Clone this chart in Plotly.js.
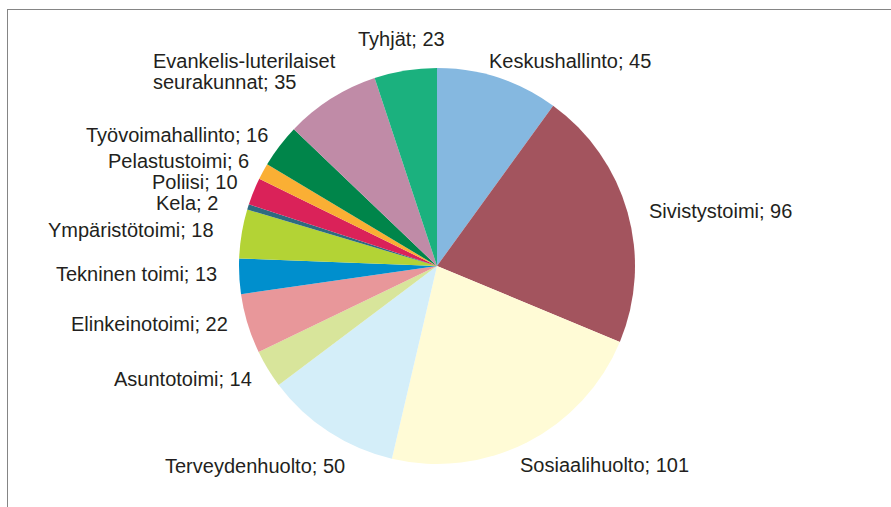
<!DOCTYPE html>
<html>
<head>
<meta charset="utf-8">
<script src="https://cdn.plot.ly/plotly-3.0.1.min.js"></script>
<style>
  html, body { margin: 0; padding: 0; background: #fff; }
  #frame { position: absolute; left: 7px; top: 9px; width: 900px; height: 520px;
           border-left: 1.5px solid #858585; border-top: 1.5px solid #858585; }
  #chart { position: absolute; left: 0; top: 0; width: 891px; height: 507px; }
</style>
</head>
<body>
<div id="frame"></div>
<div id="chart"></div>
<script>
// Data
const categories = ["Keskushallinto", "Sivistystoimi", "Sosiaalihuolto", "Terveydenhuolto",
  "Asuntotoimi", "Elinkeinotoimi", "Tekninen toimi", "Ympäristötoimi", "Kela", "Poliisi",
  "Pelastustoimi", "Työvoimahallinto", "Evankelis-luterilaiset<br>seurakunnat", "Tyhjät"];
const values = [45, 96, 101, 50, 14, 22, 13, 18, 2, 10, 6, 16, 35, 23];

// Styles / positions (kept separate from data)
const colors = ["#85b8e0", "#a3545e", "#fffbd6", "#d4eef9", "#d8e59b", "#e8979a", "#008fcd",
  "#b3d335", "#2e6b80", "#da2259", "#faaf34", "#00854a", "#c08ba7", "#1bb17e"];
// label anchor pixel positions (x, center y, horizontal anchor)
const labelPos = [
  [570, 61, "center"], [720, 211, "center"], [604, 465, "center"], [255, 466, "center"],
  [183, 379, "center"], [149, 324, "center"], [136, 274, "center"], [131, 230, "center"],
  [187, 203, "center"], [195, 182, "center"], [178, 161, "center"], [177, 135, "center"],
  [151, 61, "left"], [401, 39, "center"]
];

const W = 891, H = 507;
const m = { l: 239, r: 256, t: 68, b: 43 };
const pw = W - m.l - m.r, ph = H - m.t - m.b;
const toPX = px => (px - m.l) / pw;
const toPY = py => (H - m.b - py) / ph;

const font = { family: "Liberation Sans, Arial, sans-serif", size: 20, color: "#231f20" };
const annotations = [];
categories.forEach((c, i) => {
  const lines = c.split("<br>");
  const [x, y, anchor] = labelPos[i];
  lines.forEach((ln, j) => {
    const txt = (j === lines.length - 1) ? ln + "; " + values[i] : ln;
    annotations.push({
      text: txt, x: toPX(x), y: toPY(y + j * 21), xref: "paper", yref: "paper",
      xanchor: anchor, yanchor: "middle", showarrow: false, font: font
    });
  });
});

const trace = {
  type: "pie",
  labels: categories,
  values: values,
  sort: false,
  direction: "clockwise",
  rotation: 0,
  marker: { colors: colors, line: { width: 0 } },
  textinfo: "none",
  hoverinfo: "label+value",
  showlegend: false
};

const layout = {
  width: W, height: H,
  margin: m,
  paper_bgcolor: "rgba(0,0,0,0)",
  plot_bgcolor: "rgba(0,0,0,0)",
  showlegend: false,
  annotations: annotations
};

Plotly.newPlot("chart", [trace], layout, { staticPlot: true });
</script>
</body>
</html>
